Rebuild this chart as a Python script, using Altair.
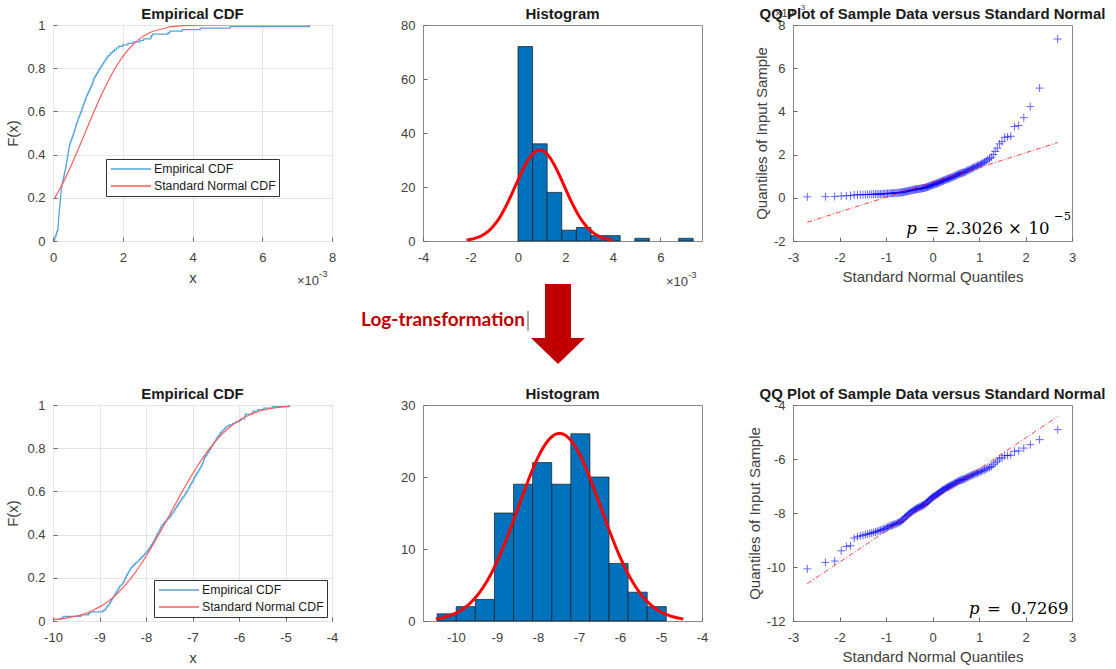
import math
from statistics import NormalDist
import numpy as np
import pandas as pd
import altair as alt

# ---------------- data (sorted sample, natural-log domain) ----------------
log_sample = [
    -10.07, -9.83, -9.78, -9.40, -9.24, -9.21, -8.93, -8.88, -8.85, -8.83,
    -8.80, -8.78, -8.76, -8.74, -8.72, -8.70, -8.68, -8.66, -8.64, -8.62,
    -8.60, -8.58, -8.56, -8.53, -8.50, -8.48, -8.46, -8.45, -8.43, -8.42,
    -8.40, -8.38, -8.36, -8.34, -8.32, -8.29, -8.26, -8.23, -8.19, -8.15,
    -8.12, -8.09, -8.06, -8.03, -8.00, -7.97, -7.95, -7.92, -7.90, -7.88,
    -7.86, -7.84, -7.82, -7.81, -7.79, -7.77, -7.76, -7.74, -7.72, -7.70,
    -7.69, -7.67, -7.65, -7.62, -7.59, -7.56, -7.53, -7.50, -7.47, -7.45,
    -7.42, -7.40, -7.38, -7.36, -7.34, -7.32, -7.30, -7.28, -7.25, -7.23,
    -7.21, -7.18, -7.16, -7.14, -7.12, -7.10, -7.08, -7.06, -7.05, -7.03,
    -7.01, -6.99, -6.97, -6.96, -6.94, -6.92, -6.90, -6.88, -6.86, -6.84,
    -6.82, -6.80, -6.79, -6.77, -6.76, -6.75, -6.74, -6.715, -6.69, -6.67,
    -6.65, -6.63, -6.61, -6.59, -6.57, -6.55, -6.53, -6.51, -6.49, -6.47,
    -6.45, -6.42, -6.40, -6.37, -6.34, -6.31, -6.2765, -6.2147, -6.1423, -6.0749,
    -5.9915, -5.9523, -5.8782, -5.8711, -5.8605, -5.7139, -5.6988, -5.5968, -5.4680, -5.2825,
    -4.9130,
]
# raw sample in units of 1e-3 (the log-transformation is the inverse of this)
raw_sample = [math.exp(v) * 1000.0 for v in log_sample]

top_bin_start, top_bin_width = 0.0, 0.615
bottom_bin_start, bottom_bin_width = -10.456, 0.4655
n_bins = 12

series_names = ["Empirical CDF", "Standard Normal CDF"]
p_top = ["2.3026", "10", "\u22125"]
p_bottom = "0.7269"

# ---------------- style ----------------
W, H = 279, 216
FONT = "Liberation Sans"
GREY = "#404040"
BLUE_CDF = "#55a3dc"
RED_CDF = "#ff5c5c"
BAR = "#0072BD"


def fit(values):
    a = np.array(values)
    return float(a.mean()), float(a.std(ddof=1))


def axis(values, title=None, grid=False, pad=6, tpad=6):
    return alt.Axis(values=values, title=title, grid=grid, offset=-4, tickSize=4,
                    labelPadding=pad, titlePadding=tpad,
                    labelFlush=False, labelOverlap=False,
                    labelExpr="'' + datum.value")


def note(text, x, y, size=13, align="left", font=FONT, color=GREY,
         weight="normal", style="normal", baseline="middle"):
    return alt.Chart(pd.DataFrame({"a": [0]})).mark_text(
        text=text, align=align, baseline=baseline, font=font, fontSize=size,
        color=color, fontWeight=weight, fontStyle=style
    ).encode(x=alt.value(x), y=alt.value(y))


def title_mark(text):
    return note(text, W / 2, -11, size=15, align="center", color="#1a1a1a", weight="bold")


def ecdf_panel(values, xdom, xticks, lx, ly, extra=()):
    n = len(values)
    xs = sorted(values)
    mu, sd = fit(values)
    nd = NormalDist(mu, sd)
    emp = pd.DataFrame({"x": [xs[0]] + xs,
                        "F": [0.0] + [(i + 1) / n for i in range(n)],
                        "series": series_names[0]})
    nrm = pd.DataFrame({"x": xs, "F": [nd.cdf(v) for v in xs],
                        "series": series_names[1]})
    color = alt.Color("series:N",
                      scale=alt.Scale(domain=series_names, range=[BLUE_CDF, RED_CDF]),
                      legend=alt.Legend(orient="none", legendX=lx, legendY=ly, title=None,
                                        symbolType="M-3.333,0L3.333,0", symbolSize=144,
                                        symbolOffset=15, labelOffset=16,
                                        symbolStrokeWidth=1.3, symbolFillColor="transparent",
                                        labelFont=FONT,
                                        labelFontSize=12.3, labelColor="#1a1a1a",
                                        strokeColor="#333333", fillColor="white",
                                        padding=3, rowPadding=3,
                                        offset=0, cornerRadius=0, labelLimit=0))
    x = alt.X("x:Q", scale=alt.Scale(domain=xdom, nice=False, zero=False),
              axis=axis(xticks, "x", grid=True, pad=10, tpad=6))
    y = alt.Y("F:Q", scale=alt.Scale(domain=[0, 1], nice=False),
              axis=axis([0, 0.2, 0.4, 0.6, 0.8, 1], "F(x)", grid=True, pad=8, tpad=6))
    l1 = alt.Chart(emp).mark_line(interpolate="step-after", strokeWidth=1.2, clip=True).encode(
        x=x, y=y, color=color)
    l2 = alt.Chart(nrm).mark_line(strokeWidth=1.2, clip=True).encode(x=x, y=y, color=color)
    return alt.layer(l1, l2, title_mark("Empirical CDF"), *extra).properties(width=W, height=H)


def hist_panel(values, start, width, xdom, xticks, ydom, yticks, extra=()):
    n = len(values)
    edges = [start + width * k for k in range(n_bins + 1)]
    counts, _ = np.histogram(values, bins=edges)
    bars = pd.DataFrame({"x0": edges[:-1], "x1": edges[1:], "count": counts})
    bars = bars[bars["count"] > 0]
    mu, sd = fit(values)
    nd = NormalDist(mu, sd)
    xs = np.linspace(mu - 3 * sd, mu + 3 * sd, 100)
    curve = pd.DataFrame({"x": xs, "y": [n * width * nd.pdf(v) for v in xs]})
    xsc = alt.Scale(domain=xdom, nice=False, zero=False)
    ysc = alt.Scale(domain=ydom, nice=False)
    b = alt.Chart(bars).mark_rect(fill=BAR, stroke="#1a1a1a", strokeWidth=0.7).encode(
        x=alt.X("x0:Q", scale=xsc, axis=axis(xticks, None, pad=10)),
        x2="x1:Q",
        y=alt.Y("count:Q", scale=ysc, axis=axis(yticks, None, pad=8)),
        y2=alt.datum(0),
    )
    c = alt.Chart(curve).mark_line(color="#ff0000", strokeWidth=3, clip=True).encode(
        x=alt.X("x:Q", scale=xsc), y=alt.Y("y:Q", scale=ysc))
    return alt.layer(b, c, title_mark("Histogram"), *extra).properties(width=W, height=H)


def prctile(sorted_vals, p):
    n = len(sorted_vals)
    pos = p / 100.0 * n + 0.5
    i = int(math.floor(pos))
    f = pos - i
    return sorted_vals[i - 1] + f * (sorted_vals[i] - sorted_vals[i - 1])


def qq_panel(values, ydom, yticks, extra=()):
    n = len(values)
    ys = sorted(values)
    std = NormalDist()
    xs = [std.inv_cdf((i + 0.5) / n) for i in range(n)]
    q1, q3 = prctile(ys, 25), prctile(ys, 75)
    z1, z3 = std.inv_cdf(0.25), std.inv_cdf(0.75)
    slope = (q3 - q1) / (z3 - z1)
    icpt = q1 - slope * z1
    pts = pd.DataFrame({"x": xs, "y": ys})
    ln = pd.DataFrame({"x": [xs[0], xs[-1]], "y": [icpt + slope * xs[0], icpt + slope * xs[-1]]})
    xsc = alt.Scale(domain=[-3, 3], nice=False, zero=False)
    ysc = alt.Scale(domain=ydom, nice=False, zero=False)
    p = alt.Chart(pts).mark_point(shape="M-1,0L1,0M0,-1L0,1", filled=False, size=64,
                                  strokeWidth=1, color="#0000ff", opacity=0.6).encode(
        x=alt.X("x:Q", scale=xsc, axis=axis([-3, -2, -1, 0, 1, 2, 3],
                                             "Standard Normal Quantiles", pad=10, tpad=5)),
        y=alt.Y("y:Q", scale=ysc, axis=axis(yticks, "Quantiles of Input Sample", pad=8, tpad=4)),
    )
    l = alt.Chart(ln).mark_line(color="#ff0000", strokeWidth=1, opacity=0.75,
                                strokeDash=[5, 2, 1, 2]).encode(
        x=alt.X("x:Q", scale=xsc), y=alt.Y("y:Q", scale=ysc))
    return alt.layer(p, l, *extra,
                     title_mark("QQ Plot of Sample Data versus Standard Normal")).properties(
        width=W, height=H)


SERIF = "DejaVu Serif"
PS = 16.5

# ---------------- top row ----------------
ecdf_top = ecdf_panel(raw_sample, [0, 8], [0, 2, 4, 6, 8], 53, 134,
                      extra=(note("\u00d710", 244, 256), note("-3", 266, 249, size=9.5)))

arrow_path = "M-0.325,-1L0.325,-1L0.325,0.35L0.675,0.35L0,1L-0.675,0.35L-0.325,0.35Z"
arrow = alt.Chart(pd.DataFrame({"a": [0]})).mark_point(
    shape=arrow_path, filled=True, fill="#c00000", size=6400, strokeWidth=0, opacity=1
).encode(x=alt.value(135), y=alt.value(299))
cursor = alt.Chart(pd.DataFrame({"a": [0]})).mark_rule(color="#555555", strokeWidth=1).encode(
    x=alt.value(105), y=alt.value(286), y2=alt.value(306))
hist_top = hist_panel(raw_sample, top_bin_start, top_bin_width, [-4, 7.75],
                      [-4, -2, 0, 2, 4, 6], [0, 80], [0, 20, 40, 60, 80],
                      extra=(note("\u00d710", 243, 257), note("-3", 265, 250, size=9.5),
                             arrow,
                             note("Log-transformation", 102, 295, size=19, align="right",
                                  font="Lato", color="#c00000", weight="bold"),
                             cursor))

qq_top = qq_panel(raw_sample, [-2, 8], [-2, 0, 2, 4, 6, 8],
                  extra=(note("\u00d710", -18, -11, size=11), note("-3", 5, -17, size=8),
                         note("p", 118.5, 204, size=PS, align="center", font=SERIF,
                              color="#000000", style="italic"),
                         note("=", 139.3, 204, size=PS, align="center", font=SERIF, color="#000000"),
                         note(p_top[0], 181, 204, size=PS, align="center", font=SERIF, color="#000000"),
                         note("\u00d7", 222, 204, size=PS, align="center", font=SERIF, color="#000000"),
                         note(p_top[1], 246, 204, size=PS, align="center", font=SERIF, color="#000000"),
                         note(p_top[2], 269.5, 192, size=11.5, align="center", font=SERIF, color="#000000")))

# ---------------- bottom row ----------------
ecdf_bot = ecdf_panel(log_sample, [-10, -4], [-10, -9, -8, -7, -6, -5, -4], 101, 175)
hist_bot = hist_panel(log_sample, bottom_bin_start, bottom_bin_width, [-10.8, -4],
                      [-10, -9, -8, -7, -6, -5, -4], [0, 30], [0, 5, 10, 15, 20, 25, 30])
qq_bot = qq_panel(log_sample, [-12, -4], [-12, -10, -8, -6, -4],
                  extra=(note("p", 181.2, 204, size=PS, align="center", font=SERIF,
                              color="#000000", style="italic"),
                         note("=", 201, 204, size=PS, align="center", font=SERIF, color="#000000"),
                         note(p_bottom, 246.5, 204, size=PS, align="center", font=SERIF, color="#000000")))

chart = alt.concat(ecdf_top, hist_top, qq_top, ecdf_bot, hist_bot, qq_bot,
                   columns=3, bounds="flush",
                   spacing=alt.RowColnumber(row=164, column=91)).resolve_scale(
    color="independent").resolve_legend(color="independent").properties(
    padding={"left": 5, "top": 3, "right": 5, "bottom": 5},
    background="white",
).configure_view(
    stroke="#8a8a8a", strokeWidth=1
).configure_axis(
    labelFont=FONT, labelFontSize=13, labelColor=GREY,
    titleFont=FONT, titleFontSize=15, titleFontWeight="normal", titleColor=GREY,
    tickColor="#666666", domain=False, gridColor="#e4e4e4", gridWidth=1,
)

chart.save("out.html", embed_options={"renderer": "svg", "actions": False})
